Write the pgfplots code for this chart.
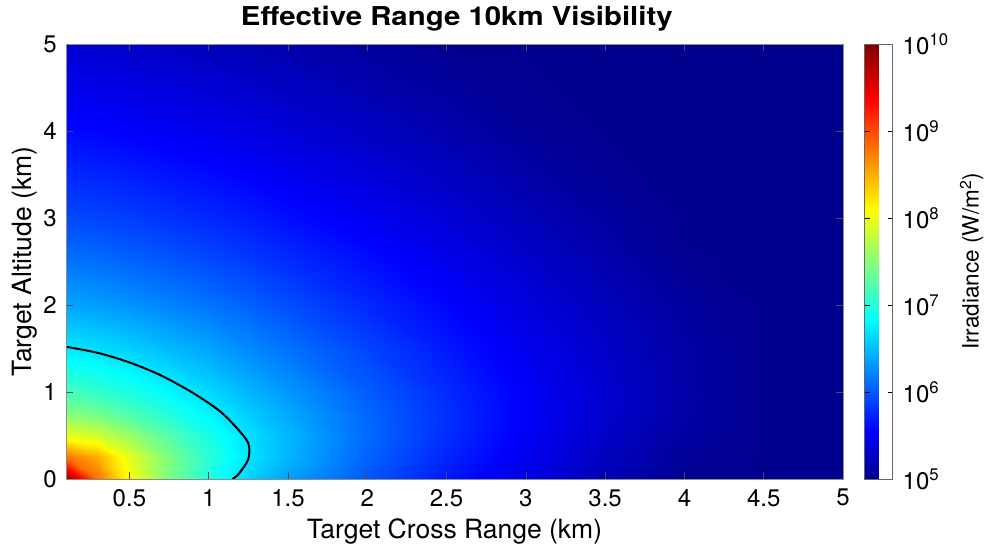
\documentclass[border=0pt]{standalone}
\usepackage{fontspec}
\setmainfont{TeX Gyre Heros}
\usepackage{graphicx}
\usepackage{pgfplots}
\usepackage{pgfplotstable}
\pgfplotsset{compat=1.18}

% log10 of irradiance (W/m^2), one line per altitude
\pgfplotstableread[row sep=\\]{
x y v\\
0.1 0 9.90\\ 0.3 0 8.80\\ 0.5 0 8.08\\ 0.75 0 7.45\\ 1 0 6.98\\ 1.25 0 6.60\\ 1.5 0 6.36\\ 2 0 5.98\\ 2.5 0 5.67\\ 3 0 5.41\\ 3.5 0 5.19\\ 4 0 5.00\\ 4.5 0 5.00\\ 5 0 5.00\\
0.1 0.25 8.80\\ 0.3 0.25 8.50\\ 0.5 0.25 7.97\\ 0.75 0.25 7.45\\ 1 0.25 7.03\\ 1.25 0.25 6.71\\ 1.5 0.25 6.46\\ 2 0.25 6.05\\ 2.5 0.25 5.73\\ 3 0.25 5.47\\ 3.5 0.25 5.24\\ 4 0.25 5.04\\ 4.5 0.25 5.00\\ 5 0.25 5.00\\
0.1 0.5 8.00\\ 0.3 0.5 7.87\\ 0.5 0.5 7.60\\ 0.75 0.5 7.25\\ 1 0.5 6.94\\ 1.25 0.5 6.68\\ 1.5 0.5 6.47\\ 2 0.5 6.09\\ 2.5 0.5 5.78\\ 3 0.5 5.51\\ 3.5 0.5 5.28\\ 4 0.5 5.08\\ 4.5 0.5 5.00\\ 5 0.5 5.00\\
0.1 0.75 7.50\\ 0.3 0.75 7.40\\ 0.5 0.75 7.22\\ 0.75 0.75 7.00\\ 1 0.75 6.78\\ 1.25 0.75 6.58\\ 1.5 0.75 6.40\\ 2 0.75 6.07\\ 2.5 0.75 5.79\\ 3 0.75 5.53\\ 3.5 0.75 5.31\\ 4 0.75 5.11\\ 4.5 0.75 5.00\\ 5 0.75 5.00\\
0.1 1 7.17\\ 0.3 1 7.08\\ 0.5 1 6.97\\ 0.75 1 6.80\\ 1 1 6.64\\ 1.25 1 6.47\\ 1.5 1 6.31\\ 2 1 6.02\\ 2.5 1 5.76\\ 3 1 5.53\\ 3.5 1 5.32\\ 4 1 5.12\\ 4.5 1 5.00\\ 5 1 5.00\\
0.1 1.5 6.71\\ 0.3 1.5 6.66\\ 0.5 1.5 6.59\\ 0.75 1.5 6.48\\ 1 1.5 6.37\\ 1.25 1.5 6.24\\ 1.5 1.5 6.12\\ 2 1.5 5.89\\ 2.5 1.5 5.67\\ 3 1.5 5.47\\ 3.5 1.5 5.28\\ 4 1.5 5.11\\ 4.5 1.5 5.00\\ 5 1.5 5.00\\
0.1 2 6.38\\ 0.3 2 6.34\\ 0.5 2 6.29\\ 0.75 2 6.21\\ 1 2 6.13\\ 1.25 2 6.04\\ 1.5 2 5.94\\ 2 2 5.75\\ 2.5 2 5.57\\ 3 2 5.39\\ 3.5 2 5.22\\ 4 2 5.07\\ 4.5 2 5.00\\ 5 2 5.00\\
0.1 2.5 6.13\\ 0.3 2.5 6.10\\ 0.5 2.5 6.05\\ 0.75 2.5 5.99\\ 1 2.5 5.92\\ 1.25 2.5 5.85\\ 1.5 2.5 5.77\\ 2 2.5 5.62\\ 2.5 2.5 5.46\\ 3 2.5 5.30\\ 3.5 2.5 5.15\\ 4 2.5 5.01\\ 4.5 2.5 5.00\\ 5 2.5 5.00\\
0.1 3 5.92\\ 0.3 3 5.89\\ 0.5 3 5.86\\ 0.75 3 5.80\\ 1 3 5.75\\ 1.25 3 5.69\\ 1.5 3 5.62\\ 2 3 5.49\\ 2.5 3 5.35\\ 3 3 5.21\\ 3.5 3 5.08\\ 4 3 5.00\\ 4.5 3 5.00\\ 5 3 5.00\\
0.1 4 5.59\\ 0.3 4 5.57\\ 0.5 4 5.54\\ 0.75 4 5.50\\ 1 4 5.46\\ 1.25 4 5.41\\ 1.5 4 5.36\\ 2 4 5.26\\ 2.5 4 5.15\\ 3 4 5.04\\ 3.5 4 5.00\\ 4 4 5.00\\ 4.5 4 5.00\\ 5 4 5.00\\
0.1 5 5.33\\ 0.3 5 5.31\\ 0.5 5 5.29\\ 0.75 5 5.26\\ 1 5 5.22\\ 1.25 5 5.18\\ 1.5 5 5.14\\ 2 5 5.06\\ 2.5 5 5.00\\ 3 5 5.00\\ 3.5 5 5.00\\ 4 5 5.00\\ 4.5 5 5.00\\ 5 5 5.00\\
}\irr

\begin{document}
\begin{tikzpicture}
\pgfplotsset{every tick label/.append style={font=\fontsize{24}{28}\selectfont}}
\begin{axis}[
    name=main,
    scale only axis,
    width=777pt, height=435pt,
    xmin=0.1, xmax=5, ymin=0, ymax=5,
    xtick={0.5,1,1.5,2,2.5,3,3.5,4,4.5,5},
    ytick={0,1,2,3,4,5},
    /pgf/number format/assume math mode=true,
    tick align=inside,
    major tick length=7pt,
    tick style={black!70, line width=0.5pt},
    axis line style={black!45, line width=0.6pt},
    axis on top,
    xticklabel style={inner sep=0pt, yshift=-10pt},
    yticklabel style={inner sep=0pt, xshift=-9pt},
    xlabel={Target Cross Range (km)},
    ylabel={Target Altitude (km)},
    xlabel style={font=\fontsize{26.5}{30}\selectfont, at={(axis description cs:0.5,-0.0897)}, anchor=north, inner sep=0pt},
    ylabel style={font=\fontsize{26.5}{30}\selectfont, at={(axis description cs:-0.0695,0.5)}, anchor=north, inner sep=0pt},
    title={\scalebox{1.13}[1]{Effective Range 10km Visibility}},
    title style={font=\bfseries\fontsize{26}{30}\selectfont, at={(axis description cs:0.503,1.0276)}, anchor=base, inner sep=0pt},
    colormap={mjet}{rgb(0cm)=(0,0,0.5625) rgb(7cm)=(0,0,1) rgb(23cm)=(0,1,1) rgb(39cm)=(1,1,0) rgb(55cm)=(1,0,0) rgb(63cm)=(0.5,0,0)},
    point meta min=5, point meta max=10,
    colorbar,
    colorbar style={
        scale only axis,
        at={(parent axis.north east)}, anchor=north west, xshift=13pt,
        width=28pt,
        ytick={5,6,7,8,9,10},
        yticklabels={10\textsuperscript{5},10\textsuperscript{6},10\textsuperscript{7},10\textsuperscript{8},10\textsuperscript{9},10\textsuperscript{10}},
        tick align=inside,
        major tick length=5pt,
        tick style={black, line width=0.6pt},
        axis line style={black!60, line width=0.6pt},
        yticklabel style={inner sep=0pt, xshift=10pt},
        ylabel={Irradiance (W/m\textsuperscript{2})},
        ylabel style={font=\fontsize{22.5}{26}\selectfont, at={(axis description cs:3.4,0.5)}, anchor=north, inner sep=0pt},
    },
]
\addplot[surf, shader=interp, mesh/cols=14, point meta=\thisrow{v}] table[x=x, y=y] {\irr};

% 5e6 W/m^2 contour
\addplot[black, line width=2pt, smooth, tension=0.5] coordinates {
    (0.10,1.52) (0.30,1.45) (0.50,1.34) (0.70,1.19) (0.90,0.99)
    (1.07,0.78) (1.18,0.58) (1.25,0.41) (1.25,0.23) (1.19,0.06) (1.15,0)
};
\end{axis}
\pgfresetboundingbox
\path[use as bounding box] ([shift={(-66pt,-69pt)}]main.south west) rectangle ([shift={(145pt,44pt)}]main.north east);
\end{tikzpicture}
\end{document}
